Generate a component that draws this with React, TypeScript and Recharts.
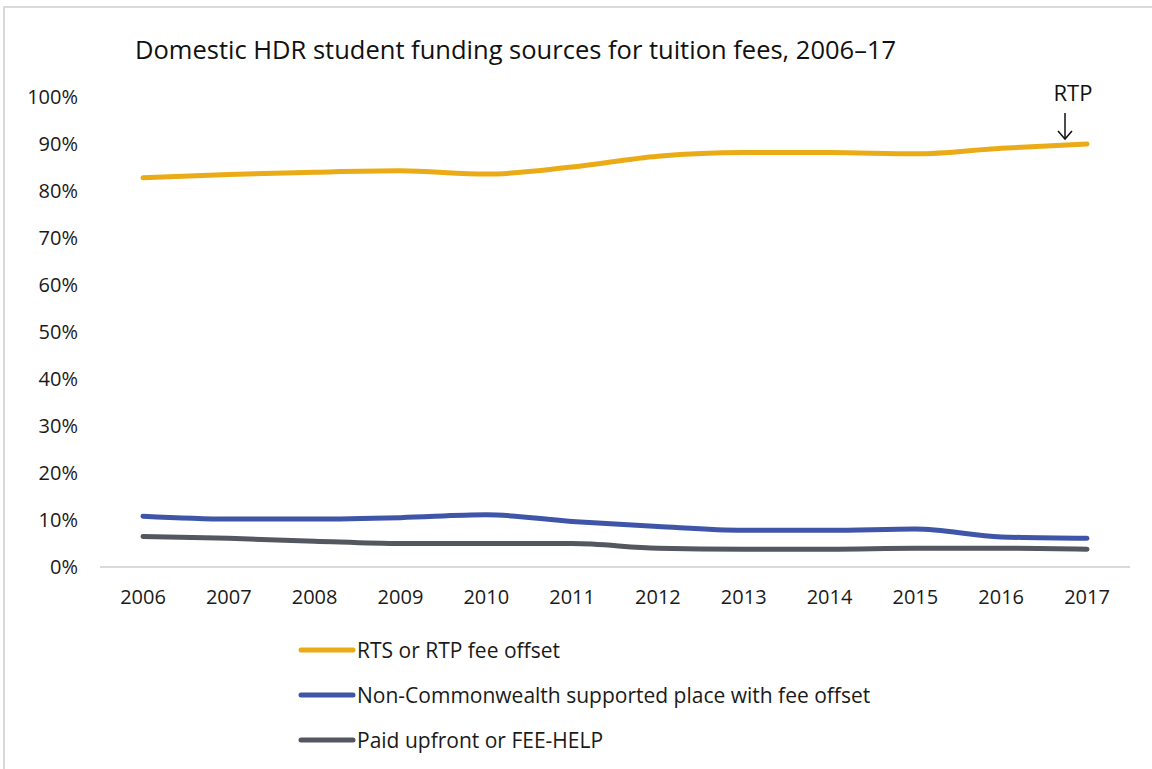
import React from 'react';
import { LineChart, Line, XAxis, YAxis } from 'recharts';

const years = ['2006', '2007', '2008', '2009', '2010', '2011', '2012', '2013', '2014', '2015', '2016', '2017'];
const rtsOffset = [82.8, 83.5, 84.0, 84.3, 83.6, 85.1, 87.4, 88.2, 88.2, 87.9, 89.1, 90.0];
const nonCommonwealth = [10.8, 10.2, 10.2, 10.5, 11.1, 9.7, 8.6, 7.8, 7.8, 8.1, 6.4, 6.1];
const paidUpfront = [6.5, 6.1, 5.5, 5.0, 5.0, 5.0, 4.0, 3.8, 3.8, 4.0, 4.0, 3.8];
const yTicks = [0, 10, 20, 30, 40, 50, 60, 70, 80, 90, 100];

const series = [
	{ key: 'rts', name: 'RTS or RTP fee offset', color: '#EAAB17' },
	{ key: 'nonCw', name: 'Non-Commonwealth supported place with fee offset', color: '#3E55A8' },
	{ key: 'paid', name: 'Paid upfront or FEE-HELP', color: '#53575F' },
];

const data = years.map((year, i) => ({
	year,
	rts: rtsOffset[i],
	nonCw: nonCommonwealth[i],
	paid: paidUpfront[i],
}));

const FONT = '"Open Sans", sans-serif';

// legend stacked vertically under the plot, like the Excel original
const LegendBox = () => (
	<div style={{ position: 'absolute', left: 298, top: 627, fontFamily: FONT, fontSize: 21, color: '#1a1a1a' }}>
		{series.map((s) => (
			<div key={s.key} style={{ display: 'flex', alignItems: 'center', height: 45, whiteSpace: 'nowrap' }}>
				<svg width={58} height={10}>
					<line x1={3} y1={5} x2={55} y2={5} stroke={s.color} strokeWidth={5} strokeLinecap="round" />
				</svg>
				<span style={{ marginLeft: 1 }}>{s.name}</span>
			</div>
		))}
	</div>
);

// "RTP" note with arrow over the last point of the RTS line
const RtpLabel = (props: any) => {
	const { x, y, index } = props;
	if (index !== years.length - 1) return null;
	const ax = x - 22;
	return (
		<g>
			<text x={ax + 8} y={y - 43} textAnchor="middle" fontFamily={FONT} fontSize={22} fill="#111">
				RTP
			</text>
			<line x1={ax} y1={y - 31} x2={ax} y2={y - 5} stroke="#111" strokeWidth={1.5} />
			<polyline points={`${ax - 7},${y - 13} ${ax},${y - 5} ${ax + 7},${y - 13}`} fill="none" stroke="#111" strokeWidth={1.5} />
		</g>
	);
};

export default function App() {
	return (
		<div style={{ position: 'absolute', left: 0, top: 0, width: 1152, height: 769, background: '#fff', overflow: 'hidden' }}>
			<div
				style={{
					position: 'absolute',
					left: 3,
					top: 6,
					width: 1200,
					height: 800,
					borderLeft: '2px solid #d9d9d9',
					borderTop: '2px solid #d9d9d9',
				}}
			/>
			<div
				style={{
					position: 'absolute',
					left: 135,
					top: 32,
					fontFamily: FONT,
					fontSize: 25.5,
					color: '#111',
					whiteSpace: 'nowrap',
				}}
			>
				Domestic HDR student funding sources for tuition fees, 2006–17
			</div>
			<LineChart
				width={1152}
				height={769}
				data={data}
				margin={{ top: 97, right: 22, bottom: 162, left: 40 }}
				style={{ position: 'absolute', left: 0, top: 0 }}
			>
				<XAxis
					dataKey="year"
					axisLine={{ stroke: '#d9d9d9', strokeWidth: 2 }}
					tickLine={false}
					tickSize={0}
					tickMargin={23}
					height={40}
					padding={{ left: 43, right: 43 }}
					tick={{ fill: '#1a1a1a', fontSize: 20, fontFamily: FONT }}
					interval={0}
				/>
				<YAxis
					domain={[0, 100]}
					ticks={yTicks}
					tickFormatter={(v) => `${v}%`}
					axisLine={false}
					tickLine={false}
					tickSize={0}
					tickMargin={22}
					width={60}
					tick={{ fill: '#1a1a1a', fontSize: 20, fontFamily: FONT }}
				/>
				{series.map((s) => (
					<Line
						key={s.key}
						type="monotone"
						dataKey={s.key}
						name={s.name}
						stroke={s.color}
						strokeWidth={5}
						strokeLinecap="round"
						dot={false}
						isAnimationActive={false}
						label={s.key === 'rts' ? <RtpLabel /> : undefined}
					/>
				))}
			</LineChart>
			<LegendBox />
		</div>
	);
}
